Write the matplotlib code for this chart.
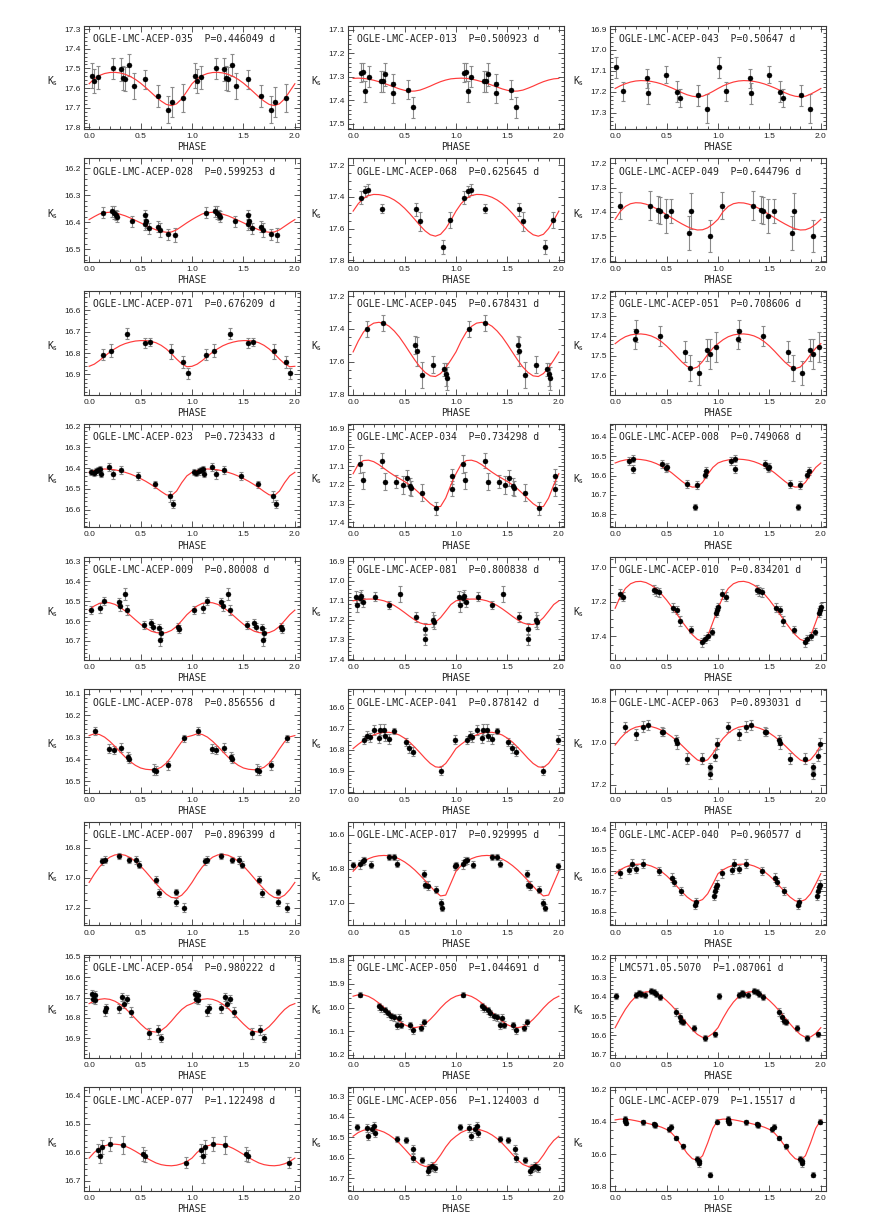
import numpy as np
import matplotlib
matplotlib.use("Agg")
import matplotlib.pyplot as plt
from matplotlib.ticker import MultipleLocator, FormatStrFormatter

# ---------------- data ----------------
STARS = ["OGLE-LMC-ACEP-035", "OGLE-LMC-ACEP-013", "OGLE-LMC-ACEP-043",
         "OGLE-LMC-ACEP-028", "OGLE-LMC-ACEP-068", "OGLE-LMC-ACEP-049",
         "OGLE-LMC-ACEP-071", "OGLE-LMC-ACEP-045", "OGLE-LMC-ACEP-051",
         "OGLE-LMC-ACEP-023", "OGLE-LMC-ACEP-034", "OGLE-LMC-ACEP-008",
         "OGLE-LMC-ACEP-009", "OGLE-LMC-ACEP-081", "OGLE-LMC-ACEP-010",
         "OGLE-LMC-ACEP-078", "OGLE-LMC-ACEP-041", "OGLE-LMC-ACEP-063",
         "OGLE-LMC-ACEP-007", "OGLE-LMC-ACEP-017", "OGLE-LMC-ACEP-040",
         "OGLE-LMC-ACEP-054", "OGLE-LMC-ACEP-050", "LMC571.05.5070",
         "OGLE-LMC-ACEP-077", "OGLE-LMC-ACEP-056", "OGLE-LMC-ACEP-079"]

PERIODS = ["0.446049", "0.500923", "0.50647", "0.599253", "0.625645", "0.644796",
           "0.676209", "0.678431", "0.708606", "0.723433", "0.734298", "0.749068",
           "0.80008", "0.800838", "0.834201", "0.856556", "0.878142", "0.893031",
           "0.896399", "0.929995", "0.960577", "0.980222", "1.044691", "1.087061",
           "1.122498", "1.124003", "1.15517"]

# y-axis range (bright at top), and major tick step
Y_TOP = [17.283, 17.082, 16.884, 16.163, 17.158, 17.180, 16.511, 17.170, 17.175,
         16.187, 16.874, 16.332, 16.275, 16.875, 16.936, 16.080, 16.513, 16.744,
         16.627, 16.525, 16.365, 16.489, 15.776, 16.183, 16.371, 16.256, 16.186]
Y_BOT = [17.809, 17.524, 17.380, 16.547, 17.810, 17.605, 16.994, 17.800, 17.697,
         16.684, 17.426, 16.868, 16.796, 17.405, 17.540, 16.553, 17.005, 17.237,
         17.316, 17.133, 16.865, 16.998, 16.214, 16.717, 16.735, 16.762, 16.827]
Y_STEP = [0.1, 0.1, 0.1, 0.1, 0.2, 0.1, 0.1, 0.2, 0.1,
          0.1, 0.1, 0.1, 0.1, 0.1, 0.2, 0.1, 0.1, 0.2,
          0.2, 0.2, 0.1, 0.1, 0.1, 0.1, 0.1, 0.1, 0.2]

# observed phases (0-1), Ks magnitudes and errors
PHASES = [
    [0.032, 0.048, 0.084, 0.229, 0.312, 0.328, 0.348, 0.390, 0.432, 0.544, 0.667, 0.770, 0.808, 0.911],
    [0.08, 0.10, 0.12, 0.15, 0.27, 0.29, 0.31, 0.39, 0.39, 0.53, 0.58],
    [0.006, 0.078, 0.314, 0.324, 0.493, 0.600, 0.629, 0.810, 0.895],
    [0.135, 0.227, 0.243, 0.26, 0.27, 0.42, 0.54, 0.55, 0.545, 0.584, 0.67, 0.69, 0.77, 0.83],
    [0.08, 0.12, 0.147, 0.28, 0.61, 0.65, 0.87, 0.94],
    [0.043, 0.34, 0.42, 0.44, 0.49, 0.54, 0.72, 0.74, 0.92],
    [0.134, 0.21, 0.366, 0.54, 0.59, 0.80, 0.91, 0.957],
    [0.13, 0.286, 0.605, 0.616, 0.67, 0.78, 0.886, 0.90, 0.91],
    [0.19, 0.20, 0.44, 0.68, 0.73, 0.82, 0.89, 0.92, 0.985],
    [0.016, 0.043, 0.065, 0.086, 0.108, 0.113, 0.19, 0.232, 0.314, 0.476, 0.638, 0.784, 0.82],
    [0.065, 0.092, 0.28, 0.31, 0.416, 0.48, 0.52, 0.55, 0.567, 0.67, 0.81, 0.965, 0.965],
    [0.13, 0.17, 0.17, 0.46, 0.49, 0.50, 0.70, 0.78, 0.80, 0.87, 0.88],
    [0.016, 0.108, 0.146, 0.286, 0.297, 0.346, 0.367, 0.53, 0.605, 0.62, 0.676, 0.69, 0.70, 0.865, 0.876],
    [0.027, 0.038, 0.065, 0.08, 0.10, 0.21, 0.35, 0.46, 0.61, 0.70, 0.70, 0.78, 0.79],
    [0.043, 0.08, 0.375, 0.40, 0.43, 0.563, 0.606, 0.633, 0.74, 0.847, 0.87, 0.90, 0.944, 0.98, 0.987, 0.997],
    [0.054, 0.19, 0.238, 0.313, 0.378, 0.39, 0.632, 0.65, 0.77, 0.92],
    [0.103, 0.135, 0.16, 0.20, 0.254, 0.265, 0.30, 0.31, 0.346, 0.40, 0.51, 0.54, 0.58, 0.85, 0.995],
    [0.097, 0.204, 0.273, 0.32, 0.456, 0.47, 0.59, 0.606, 0.697, 0.847, 0.92, 0.927, 0.975, 0.99],
    [0.124, 0.15, 0.286, 0.39, 0.46, 0.486, 0.65, 0.676, 0.84, 0.84, 0.92],
    [0.0, 0.065, 0.092, 0.108, 0.17, 0.346, 0.40, 0.43, 0.686, 0.70, 0.724, 0.81, 0.85, 0.865, 0.993],
    [0.043, 0.134, 0.16, 0.204, 0.268, 0.43, 0.552, 0.574, 0.643, 0.777, 0.788, 0.965, 0.975, 0.985, 0.993],
    [0.027, 0.038, 0.054, 0.054, 0.15, 0.162, 0.286, 0.324, 0.34, 0.368, 0.405, 0.584, 0.665, 0.70],
    [0.07, 0.25, 0.27, 0.31, 0.335, 0.37, 0.40, 0.43, 0.45, 0.47, 0.55, 0.58, 0.66, 0.69],
    [0.005, 0.204, 0.23, 0.247, 0.295, 0.35, 0.375, 0.40, 0.44, 0.59, 0.627, 0.643, 0.66, 0.767, 0.87, 0.975],
    [0.084, 0.106, 0.126, 0.203, 0.325, 0.525, 0.541, 0.945],
    [0.038, 0.13, 0.146, 0.184, 0.20, 0.216, 0.43, 0.51, 0.578, 0.584, 0.67, 0.724, 0.74, 0.77, 0.795],
    [0.10, 0.10, 0.105, 0.268, 0.375, 0.39, 0.525, 0.547, 0.59, 0.66, 0.80, 0.815, 0.82, 0.92, 0.99],
]

MAGS = [
    [17.537, 17.563, 17.546, 17.500, 17.505, 17.550, 17.554, 17.483, 17.590, 17.556, 17.640, 17.710, 17.670, 17.650],
    [17.282, 17.280, 17.363, 17.300, 17.320, 17.320, 17.290, 17.330, 17.368, 17.355, 17.430],
    [17.084, 17.199, 17.137, 17.207, 17.118, 17.200, 17.230, 17.217, 17.282],
    [16.364, 16.360, 16.364, 16.373, 16.380, 16.397, 16.373, 16.395, 16.407, 16.422, 16.416, 16.428, 16.444, 16.447],
    [17.406, 17.364, 17.354, 17.474, 17.478, 17.554, 17.716, 17.547],
    [17.375, 17.375, 17.390, 17.395, 17.416, 17.396, 17.488, 17.396, 17.500],
    [16.808, 16.789, 16.709, 16.753, 16.748, 16.792, 16.842, 16.895],
    [17.400, 17.363, 17.496, 17.537, 17.680, 17.618, 17.645, 17.676, 17.700],
    [17.417, 17.378, 17.403, 17.480, 17.563, 17.590, 17.474, 17.493, 17.457],
    [16.419, 16.422, 16.416, 16.410, 16.403, 16.427, 16.395, 16.430, 16.410, 16.438, 16.478, 16.536, 16.573],
    [17.088, 17.175, 17.072, 17.184, 17.182, 17.200, 17.163, 17.207, 17.218, 17.242, 17.325, 17.155, 17.220],
    [16.525, 16.512, 16.567, 16.540, 16.560, 16.555, 16.643, 16.762, 16.650, 16.595, 16.575],
    [16.544, 16.532, 16.498, 16.505, 16.523, 16.465, 16.543, 16.622, 16.612, 16.630, 16.636, 16.694, 16.660, 16.630, 16.640],
    [17.081, 17.124, 17.085, 17.075, 17.110, 17.080, 17.122, 17.067, 17.185, 17.246, 17.300, 17.198, 17.210],
    [17.156, 17.170, 17.130, 17.140, 17.145, 17.234, 17.248, 17.312, 17.364, 17.437, 17.418, 17.400, 17.375, 17.264, 17.250, 17.230],
    [16.271, 16.352, 16.358, 16.347, 16.389, 16.398, 16.447, 16.452, 16.428, 16.305],
    [16.754, 16.734, 16.742, 16.707, 16.746, 16.705, 16.705, 16.737, 16.750, 16.712, 16.765, 16.794, 16.810, 16.900, 16.753],
    [16.924, 16.959, 16.922, 16.914, 16.946, 16.948, 16.986, 17.000, 17.075, 17.075, 17.114, 17.150, 17.060, 17.003],
    [16.889, 16.878, 16.853, 16.878, 16.882, 16.911, 17.011, 17.100, 17.093, 17.160, 17.198],
    [16.780, 16.775, 16.755, 16.750, 16.776, 16.731, 16.731, 16.770, 16.830, 16.894, 16.900, 16.924, 17.000, 17.030, 16.785],
    [16.614, 16.598, 16.566, 16.594, 16.566, 16.603, 16.634, 16.655, 16.698, 16.765, 16.752, 16.723, 16.698, 16.680, 16.668],
    [16.685, 16.708, 16.689, 16.713, 16.766, 16.754, 16.754, 16.697, 16.730, 16.708, 16.770, 16.877, 16.860, 16.898],
    [15.945, 15.995, 16.003, 16.012, 16.025, 16.037, 16.042, 16.075, 16.043, 16.072, 16.075, 16.097, 16.085, 16.062],
    [16.395, 16.393, 16.380, 16.385, 16.390, 16.370, 16.376, 16.388, 16.400, 16.480, 16.505, 16.525, 16.530, 16.560, 16.615, 16.595],
    [16.592, 16.612, 16.580, 16.571, 16.574, 16.606, 16.612, 16.636],
    [16.452, 16.455, 16.493, 16.460, 16.444, 16.480, 16.507, 16.512, 16.556, 16.602, 16.610, 16.664, 16.651, 16.643, 16.651],
    [16.380, 16.395, 16.405, 16.403, 16.415, 16.420, 16.447, 16.430, 16.500, 16.552, 16.630, 16.645, 16.657, 16.728, 16.400],
]

ERRS = [
    [0.065, 0.060, 0.060, 0.055, 0.060, 0.060, 0.060, 0.055, 0.065, 0.050, 0.055, 0.070, 0.075, 0.070],
    [0.040, 0.040, 0.045, 0.045, 0.045, 0.045, 0.050, 0.040, 0.045, 0.040, 0.045],
    [0.050, 0.045, 0.045, 0.050, 0.040, 0.050, 0.045, 0.050, 0.070],
    [0.020, 0.020, 0.025, 0.020, 0.020, 0.020, 0.020, 0.025, 0.020, 0.020, 0.020, 0.025, 0.020, 0.025],
    [0.040, 0.035, 0.035, 0.030, 0.040, 0.060, 0.045, 0.050],
    [0.055, 0.060, 0.055, 0.055, 0.070, 0.050, 0.070, 0.075, 0.065],
    [0.025, 0.030, 0.025, 0.025, 0.020, 0.035, 0.030, 0.025],
    [0.050, 0.050, 0.055, 0.090, 0.080, 0.050, 0.040, 0.070, 0.070],
    [0.050, 0.055, 0.050, 0.055, 0.065, 0.060, 0.055, 0.075, 0.075],
    [0.015, 0.015, 0.015, 0.015, 0.015, 0.015, 0.020, 0.020, 0.020, 0.020, 0.015, 0.025, 0.020],
    [0.050, 0.045, 0.040, 0.045, 0.035, 0.050, 0.045, 0.045, 0.040, 0.045, 0.035, 0.040, 0.040],
    [0.020, 0.020, 0.020, 0.020, 0.020, 0.020, 0.020, 0.015, 0.020, 0.020, 0.020],
    [0.020, 0.025, 0.020, 0.020, 0.025, 0.030, 0.025, 0.020, 0.020, 0.020, 0.020, 0.030, 0.025, 0.020, 0.020],
    [0.030, 0.035, 0.030, 0.030, 0.025, 0.025, 0.020, 0.040, 0.025, 0.030, 0.030, 0.040, 0.035],
    [0.030, 0.025, 0.025, 0.025, 0.025, 0.025, 0.025, 0.030, 0.020, 0.025, 0.025, 0.025, 0.020, 0.025, 0.025, 0.020],
    [0.020, 0.020, 0.020, 0.020, 0.020, 0.020, 0.025, 0.020, 0.020, 0.015],
    [0.020, 0.020, 0.020, 0.025, 0.025, 0.025, 0.025, 0.020, 0.025, 0.015, 0.020, 0.020, 0.020, 0.020, 0.020],
    [0.025, 0.025, 0.025, 0.025, 0.020, 0.020, 0.025, 0.030, 0.025, 0.025, 0.020, 0.020, 0.025, 0.025],
    [0.025, 0.025, 0.020, 0.020, 0.025, 0.025, 0.025, 0.025, 0.020, 0.025, 0.030],
    [0.020, 0.025, 0.025, 0.020, 0.020, 0.020, 0.020, 0.020, 0.020, 0.020, 0.025, 0.020, 0.020, 0.020, 0.020],
    [0.020, 0.020, 0.020, 0.020, 0.020, 0.020, 0.020, 0.020, 0.020, 0.020, 0.020, 0.020, 0.020, 0.020, 0.020],
    [0.020, 0.020, 0.020, 0.020, 0.025, 0.020, 0.020, 0.020, 0.020, 0.020, 0.025, 0.025, 0.025, 0.020],
    [0.012, 0.015, 0.015, 0.015, 0.015, 0.015, 0.015, 0.015, 0.015, 0.015, 0.015, 0.015, 0.015, 0.015],
    [0.015, 0.015, 0.015, 0.015, 0.015, 0.015, 0.015, 0.015, 0.015, 0.020, 0.020, 0.015, 0.015, 0.015, 0.015, 0.015],
    [0.020, 0.025, 0.025, 0.025, 0.030, 0.025, 0.020, 0.020],
    [0.015, 0.020, 0.020, 0.020, 0.020, 0.020, 0.015, 0.015, 0.020, 0.020, 0.015, 0.020, 0.020, 0.020, 0.020],
    [0.015, 0.015, 0.015, 0.015, 0.015, 0.015, 0.015, 0.015, 0.015, 0.015, 0.020, 0.020, 0.020, 0.015, 0.015],
]

# model light curves, read at phases 0.00, 0.05, ..., 0.95
CURVE_PHASE = [0.00, 0.05, 0.10, 0.15, 0.20, 0.25, 0.30, 0.35, 0.40, 0.45,
               0.50, 0.55, 0.60, 0.65, 0.70, 0.75, 0.80, 0.85, 0.90, 0.95]
CURVES = [
    [17.578, 17.553, 17.536, 17.526, 17.521, 17.520, 17.523, 17.530, 17.541, 17.556, 17.575, 17.597, 17.621, 17.645, 17.666, 17.683, 17.689, 17.680, 17.655, 17.617],
    [17.307, 17.306, 17.307, 17.310, 17.315, 17.321, 17.328, 17.336, 17.344, 17.352, 17.358, 17.362, 17.361, 17.357, 17.349, 17.340, 17.330, 17.321, 17.314, 17.309],
    [17.185, 17.172, 17.162, 17.154, 17.149, 17.147, 17.148, 17.151, 17.156, 17.163, 17.172, 17.182, 17.193, 17.205, 17.215, 17.222, 17.225, 17.222, 17.212, 17.199],
    [16.390, 16.379, 16.369, 16.364, 16.363, 16.365, 16.370, 16.376, 16.384, 16.393, 16.402, 16.411, 16.420, 16.428, 16.434, 16.437, 16.436, 16.428, 16.415, 16.402],
    [17.490, 17.443, 17.410, 17.392, 17.385, 17.386, 17.392, 17.403, 17.420, 17.443, 17.472, 17.506, 17.543, 17.581, 17.615, 17.639, 17.648, 17.636, 17.600, 17.548],
    [17.430, 17.398, 17.377, 17.366, 17.362, 17.363, 17.368, 17.376, 17.386, 17.398, 17.411, 17.424, 17.437, 17.449, 17.460, 17.469, 17.474, 17.473, 17.465, 17.450],
    [16.862, 16.852, 16.835, 16.815, 16.796, 16.780, 16.766, 16.756, 16.749, 16.744, 16.742, 16.742, 16.745, 16.752, 16.764, 16.781, 16.803, 16.828, 16.850, 16.864],
    [17.540, 17.474, 17.420, 17.385, 17.365, 17.360, 17.366, 17.384, 17.413, 17.450, 17.495, 17.543, 17.590, 17.632, 17.665, 17.686, 17.690, 17.672, 17.636, 17.590],
    [17.440, 17.420, 17.405, 17.396, 17.392, 17.391, 17.394, 17.401, 17.413, 17.430, 17.452, 17.478, 17.506, 17.533, 17.555, 17.566, 17.558, 17.530, 17.495, 17.463],
    [16.420, 16.411, 16.406, 16.404, 16.405, 16.408, 16.413, 16.420, 16.428, 16.438, 16.450, 16.463, 16.478, 16.494, 16.512, 16.528, 16.532, 16.510, 16.470, 16.437],
    [17.140, 17.090, 17.070, 17.068, 17.076, 17.092, 17.112, 17.132, 17.150, 17.166, 17.182, 17.200, 17.222, 17.247, 17.274, 17.300, 17.318, 17.315, 17.270, 17.200],
    [16.535, 16.525, 16.519, 16.516, 16.515, 16.517, 16.521, 16.528, 16.538, 16.551, 16.567, 16.586, 16.608, 16.630, 16.649, 16.660, 16.658, 16.635, 16.594, 16.558],
    [16.545, 16.524, 16.511, 16.506, 16.508, 16.516, 16.530, 16.549, 16.571, 16.594, 16.616, 16.635, 16.650, 16.658, 16.661, 16.658, 16.647, 16.627, 16.598, 16.568],
    [17.102, 17.097, 17.094, 17.093, 17.093, 17.096, 17.102, 17.112, 17.126, 17.143, 17.162, 17.182, 17.200, 17.215, 17.223, 17.223, 17.212, 17.188, 17.155, 17.121],
    [17.238, 17.170, 17.122, 17.095, 17.083, 17.081, 17.088, 17.103, 17.125, 17.155, 17.190, 17.230, 17.272, 17.315, 17.355, 17.392, 17.420, 17.430, 17.400, 17.320],
    [16.292, 16.284, 16.287, 16.299, 16.318, 16.341, 16.366, 16.390, 16.411, 16.428, 16.440, 16.446, 16.448, 16.446, 16.437, 16.418, 16.389, 16.353, 16.320, 16.298],
    [16.795, 16.775, 16.757, 16.742, 16.730, 16.722, 16.718, 16.718, 16.722, 16.731, 16.746, 16.765, 16.789, 16.815, 16.842, 16.866, 16.882, 16.885, 16.866, 16.832],
    [17.010, 16.978, 16.953, 16.936, 16.925, 16.920, 16.919, 16.922, 16.929, 16.939, 16.953, 16.970, 16.990, 17.012, 17.036, 17.060, 17.081, 17.090, 17.080, 17.050],
    [17.030, 16.975, 16.927, 16.890, 16.862, 16.847, 16.843, 16.849, 16.865, 16.889, 16.921, 16.958, 16.998, 17.038, 17.075, 17.108, 17.130, 17.133, 17.115, 17.078],
    [16.815, 16.782, 16.758, 16.741, 16.730, 16.724, 16.722, 16.724, 16.731, 16.743, 16.760, 16.782, 16.808, 16.838, 16.870, 16.903, 16.935, 16.960, 16.955, 16.885],
    [16.615, 16.596, 16.583, 16.574, 16.570, 16.569, 16.571, 16.578, 16.589, 16.605, 16.625, 16.649, 16.676, 16.703, 16.728, 16.746, 16.750, 16.740, 16.712, 16.665],
    [16.730, 16.717, 16.709, 16.706, 16.709, 16.718, 16.733, 16.753, 16.777, 16.804, 16.830, 16.853, 16.867, 16.870, 16.862, 16.843, 16.816, 16.786, 16.759, 16.740],
    [15.952, 15.946, 15.946, 15.953, 15.965, 15.981, 16.000, 16.020, 16.040, 16.058, 16.073, 16.082, 16.085, 16.081, 16.069, 16.050, 16.027, 16.002, 15.980, 15.963],
    [16.560, 16.510, 16.465, 16.428, 16.400, 16.383, 16.375, 16.375, 16.383, 16.398, 16.420, 16.446, 16.476, 16.508, 16.540, 16.570, 16.595, 16.610, 16.608, 16.590],
    [16.620, 16.600, 16.586, 16.577, 16.572, 16.571, 16.573, 16.578, 16.586, 16.596, 16.607, 16.618, 16.628, 16.637, 16.643, 16.646, 16.647, 16.645, 16.640, 16.632],
    [16.495, 16.477, 16.466, 16.461, 16.461, 16.466, 16.475, 16.489, 16.507, 16.530, 16.557, 16.585, 16.612, 16.633, 16.643, 16.640, 16.621, 16.587, 16.548, 16.516],
    [16.388, 16.383, 16.383, 16.387, 16.393, 16.400, 16.407, 16.415, 16.423, 16.433, 16.447, 16.470, 16.505, 16.550, 16.595, 16.628, 16.638, 16.610, 16.530, 16.440],
]

X_TICKS = [0.0, 0.5, 1.0, 1.5, 2.0]

# ---------------- layout / drawing ----------------
W, H = 872, 1232
fig = plt.figure(figsize=(W / 100, H / 100), dpi=100)
fig.patch.set_facecolor("white")

COL_LEFT = [84, 348, 610]
AX_W, AX_H = 216, 103.5
ROW_TOP0, ROW_DY = 25.7, 132.7

TXT_FONT = "DejaVu Sans Mono"
TICK_FONT = "Liberation Sans"
FRAME_C = "#3a3a3a"

for i in range(len(STARS)):
    r, c = divmod(i, 3)
    top = ROW_TOP0 + ROW_DY * r
    ax = fig.add_axes([COL_LEFT[c] / W, 1 - (top + AX_H) / H, AX_W / W, AX_H / H])

    ph = np.asarray(PHASES[i])
    mg = np.asarray(MAGS[i])
    er = np.asarray(ERRS[i])
    x = np.concatenate([ph, ph + 1.0])
    y = np.concatenate([mg, mg])
    e = np.concatenate([er, er])

    cph = np.asarray(CURVE_PHASE)
    cval = np.asarray(CURVES[i])
    cx = np.concatenate([cph, cph + 1.0, [2.0]])
    cy = np.concatenate([cval, cval, cval[:1]])

    ax.errorbar(x, y, yerr=e, fmt="none", ecolor="#8a8a8a", elinewidth=0.8,
                capsize=1.7, capthick=0.8, zorder=2)
    ax.plot(cx, cy, color="#ff3b3b", lw=0.85, zorder=3)
    ax.plot(x, y, "o", ms=3.6, mfc="black", mec="black", mew=0.3, zorder=4)

    ax.set_xlim(-0.05, 2.05)
    ax.set_ylim(Y_BOT[i], Y_TOP[i])

    ax.xaxis.set_major_locator(MultipleLocator(0.5))
    ax.xaxis.set_minor_locator(MultipleLocator(0.1))
    ax.xaxis.set_major_formatter(FormatStrFormatter("%.1f"))
    st = Y_STEP[i]
    ax.yaxis.set_major_locator(MultipleLocator(st))
    ax.yaxis.set_minor_locator(MultipleLocator(st / 5 if st < 0.15 else st / 4))
    ax.yaxis.set_major_formatter(FormatStrFormatter("%.1f"))

    ax.tick_params(which="both", direction="in", top=True, right=True,
                   color=FRAME_C, width=0.6, labelsize=6.0, labelcolor="#222222")
    ax.tick_params(which="major", length=4.0)
    ax.tick_params(which="minor", length=2.0)
    ax.tick_params(axis="y", pad=2.2)
    ax.tick_params(axis="x", pad=3.0)
    for lab in ax.get_xticklabels() + ax.get_yticklabels():
        lab.set_fontfamily(TICK_FONT)
    for sp in ax.spines.values():
        sp.set_color(FRAME_C)
        sp.set_linewidth(0.8)

    ax.text(8.7 / AX_W, 1 - 13.3 / AX_H, f"{STARS[i]}  P={PERIODS[i]} d",
            transform=ax.transAxes, ha="left", va="center",
            fontsize=7.0, family=TXT_FONT, color="#222222")
    ax.text(0.5, -18.3 / AX_H, "PHASE", transform=ax.transAxes,
            ha="center", va="center", fontsize=7.0, family=TXT_FONT, color="#222222")
    ax.text(-31 / AX_W, 0.465, r"K$_\mathrm{s}$", transform=ax.transAxes,
            ha="center", va="center", fontsize=7.0, family=TXT_FONT, color="#222222")

fig.savefig("out.png", dpi=100, facecolor="white")
